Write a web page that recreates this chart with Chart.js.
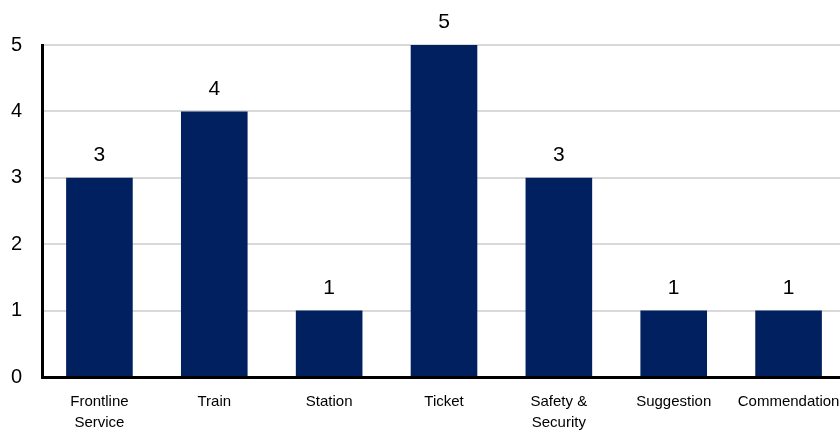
<!DOCTYPE html>
<html lang="en">
<head>
  <meta charset="UTF-8" />
  <title>Complaint categories</title>
  <script src="https://cdn.jsdelivr.net/npm/chart.js"></script>
  <style>
    html, body { margin: 0; padding: 0; background: #fff; overflow: hidden; }
    #wrap { width: 846px; height: 430px; }
  </style>
</head>
<body>
  <div id="wrap"><canvas id="barChart" width="846" height="430"></canvas></div>

  <script>
// data
const categories = [['Frontline', 'Service'], 'Train', 'Station', 'Ticket', ['Safety &', 'Security'], 'Suggestion', 'Commendation'];
const counts = [3, 4, 1, 5, 3, 1, 1];
const yTicks = [0, 1, 2, 3, 4, 5];

const barColor = '#002060';
const fontFamily = '"Liberation Sans", Arial, sans-serif';

// numbers above each bar
const valueLabels = {
    id: 'valueLabels',
    afterDatasetsDraw(chart) {
        const ctx = chart.ctx;
        const meta = chart.getDatasetMeta(0);
        ctx.save();
        ctx.font = '21px ' + fontFamily;
        ctx.fillStyle = '#000';
        ctx.textAlign = 'center';
        ctx.textBaseline = 'bottom';
        meta.data.forEach((bar, i) => {
            ctx.fillText(String(counts[i]), bar.x, bar.y - 12);
        });
        ctx.restore();
    }
};

const ctx = document.getElementById('barChart').getContext('2d');
new Chart(ctx, {
    type: 'bar',
    data: {
        labels: categories,
        datasets: [{
            data: counts,
            backgroundColor: barColor,
            borderWidth: 0,
            categoryPercentage: 1,
            barPercentage: 0.58
        }]
    },
    options: {
        responsive: false,
        animation: false,
        layout: { padding: { top: 45, right: 0, left: 0, bottom: 0 } },
        plugins: {
            legend: { display: false },
            tooltip: { enabled: false }
        },
        scales: {
            x: {
                grid: { display: false, drawTicks: false },
                border: { color: '#000', width: 3 },
                ticks: {
                    color: '#000',
                    font: { family: fontFamily, size: 15, lineHeight: 1.35 },
                    padding: 15,
                    maxRotation: 0,
                    autoSkip: false
                },
                afterFit(scale) {
                    scale.height = 53;
                    // let the last label run off the edge like the original
                    scale.paddingLeft = 0;
                    scale.paddingRight = 0;
                }
            },
            y: {
                min: 0,
                max: 5,
                afterBuildTicks(scale) { scale.ticks = yTicks.map(v => ({ value: v })); },
                grid: { color: '#d9d9d9', lineWidth: 2, drawTicks: false },
                border: { color: '#000', width: 3 },
                ticks: {
                    color: '#000',
                    font: { family: fontFamily, size: 20 },
                    padding: 20
                },
                afterFit(scale) { scale.width = 42; }
            }
        }
    },
    plugins: [valueLabels]
});
  </script>
</body>
</html>
